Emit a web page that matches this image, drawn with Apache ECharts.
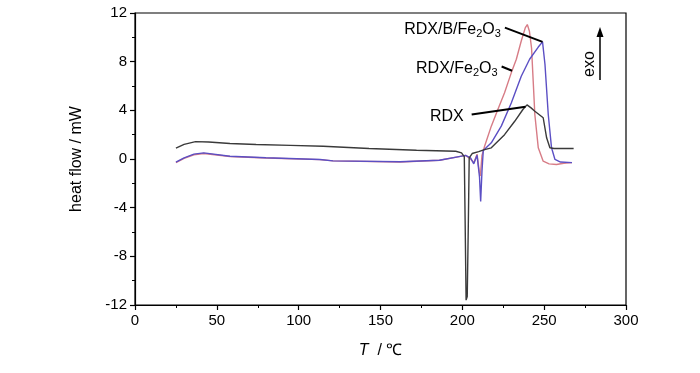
<!DOCTYPE html>
<html><head><meta charset="utf-8">
<script src="https://cdn.jsdelivr.net/npm/echarts@6/dist/echarts.min.js"></script>
<style>html,body{margin:0;padding:0;background:#fff}#c{width:700px;height:373px}</style>
</head><body><div id="c"></div>
<script>
// Series data [T (°C), heat flow (mW)]
var rdx = [[25,0.9],[30,1.2],[37,1.43],[45,1.4],[58,1.27],[74,1.19],[95,1.12],[115,1.05],[143,0.86],[172,0.72],[196,0.64],[199.5,0.5],[201.2,0.2],[201.7,-5],[202.3,-11.6],[203,-11.3],[203.7,-5],[204.2,0.1],[206,0.45],[210,0.6],[213,0.75],[217.7,0.92],[225.8,2.0],[232,3.1],[237,4.07],[239.5,4.45],[242,4.2],[244.3,3.93],[249.4,3.39],[251.5,1.74],[253.5,0.92],[256,0.86],[268,0.86]];
var rdxFe2O3 = [[25,-0.3],[30,0.05],[36,0.35],[42,0.45],[58,0.2],[80,0.08],[113,-0.05],[121,-0.15],[162,-0.25],[186,-0.1],[198,0.2],[202,0.3],[205,0],[207,-0.3],[209,0.4],[210.3,-1.0],[211,-1.4],[212,0.3],[213.6,1.05],[217.7,2.7],[221.7,4.07],[225.8,5.44],[229.9,7.08],[233,8.2],[236,9.7],[238.5,10.8],[239.7,11.05],[241,10.5],[242.3,9.1],[243.3,6.4],[244.3,3.66],[246.4,0.92],[249.4,-0.18],[253,-0.4],[257.5,-0.45],[262,-0.35],[267,-0.3]];
var rdxBFe2O3 = [[25,-0.26],[30,0.1],[36,0.4],[42,0.5],[58,0.23],[80,0.1],[113,-0.04],[121,-0.15],[162,-0.23],[186,-0.1],[198,0.2],[202,0.3],[205,0.1],[207,-0.4],[209,0.3],[210.5,-1.5],[211.2,-3.5],[212,-1],[212.8,0.7],[217.7,1.33],[223.8,2.7],[229.9,4.6],[236,6.8],[241.1,8.2],[246.4,9.2],[249,9.63],[250.5,7.77],[252.5,3.66],[254.5,0.92],[256.6,-0.04],[260,-0.25],[267,-0.3]];
var xTicks = [0,50,100,150,200,250,300];
var yTicks = [-12,-8,-4,0,4,8,12];
// annotation anchors [label start, curve point] in data space
var labelNames = ['RDX/B/Fe{s|2}O{s|3}','RDX/Fe{s|2}O{s|3}','RDX'];
var labelFrom = [[226,10.8],[224,7.6],[205.7,3.66]];
var labelTo = [[249,9.63],[230.4,7.25],[238.6,4.3]];

var chart = echarts.init(document.getElementById('c'));
var font = 'Liberation Sans, Arial, sans-serif';
var axisCommon = {
  axisLine:{show:true,onZero:false,lineStyle:{color:'#000',width:1.2}},
  axisTick:{show:true,inside:false,length:5,lineStyle:{color:'#000',width:1.2}},
  minorTick:{show:true,splitNumber:2,length:3,lineStyle:{color:'#000',width:1}},
  splitLine:{show:false}
};
chart.setOption({
  animation:false,
  grid:{left:135,right:74,top:13,bottom:68,show:true,borderColor:'#000',borderWidth:1.2},
  xAxis:Object.assign({type:'value',min:xTicks[0],max:xTicks[xTicks.length-1],interval:50,
    name:'{i|T}  / ℃',nameLocation:'middle',nameGap:38,
    nameTextStyle:{color:'#000',fontSize:16,fontFamily:font,rich:{i:{fontStyle:'italic',fontSize:16,fontFamily:font,color:'#000'}}}},axisCommon,
    {axisLabel:{color:'#000',fontSize:15,fontFamily:font,margin:8}}),
  yAxis:Object.assign({type:'value',min:yTicks[0],max:yTicks[yTicks.length-1],interval:4,
    name:'heat flow / mW',nameLocation:'middle',nameGap:50,
    nameTextStyle:{color:'#000',fontSize:16,fontFamily:font}},axisCommon,
    {axisLabel:{color:'#000',fontSize:15,fontFamily:font,margin:8}}),
  series:[
    {type:'line',name:'RDX/Fe2O3',data:rdxFe2O3,showSymbol:false,lineStyle:{color:'#d77c86',width:1.4},z:2},
    {type:'line',name:'RDX/B/Fe2O3',data:rdxBFe2O3,showSymbol:false,lineStyle:{color:'#5b4fc4',width:1.4},z:3},
    {type:'line',name:'RDX',data:rdx,showSymbol:false,lineStyle:{color:'#3a3a3a',width:1.4},z:4}
  ]
});

var g = [];
for (var i=0;i<labelNames.length;i++){
  var p0 = chart.convertToPixel({gridIndex:0},labelFrom[i]);
  var p1 = chart.convertToPixel({gridIndex:0},labelTo[i]);
  g.push({type:'line',shape:{x1:p0[0],y1:p0[1],x2:p1[0],y2:p1[1]},style:{stroke:'#000',lineWidth:2},z:10});
  g.push({type:'text',x:p0[0]-(i==2?8:4),y:p0[1]+2,style:{text:labelNames[i],fill:'#000',font:'16px '+font,
    align:'right',verticalAlign:'middle',rich:{s:{fontSize:11,fontFamily:font,fill:'#000',padding:[8,0,0,0]}}},z:10});
}
// exo arrow
g.push({type:'line',shape:{x1:600,y1:80,x2:600,y2:34},style:{stroke:'#000',lineWidth:1.5},z:10});
g.push({type:'polygon',shape:{points:[[600,27],[596.5,37],[603.5,37]]},style:{fill:'#000'},z:10});
g.push({type:'text',x:590,y:64,rotation:Math.PI/2,style:{text:'exo',fill:'#000',font:'16px '+font,align:'center',verticalAlign:'middle'},z:10});
chart.setOption({graphic:g});
</script></body></html>
